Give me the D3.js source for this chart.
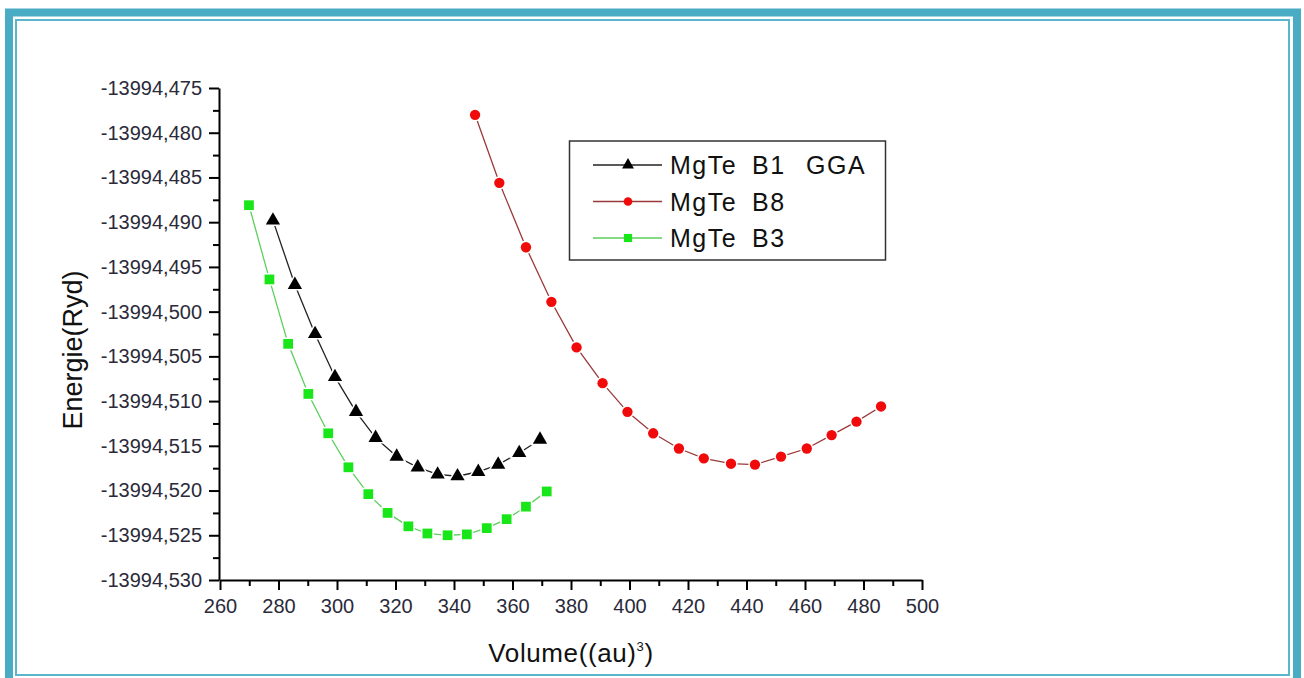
<!DOCTYPE html>
<html>
<head>
<meta charset="utf-8">
<script src="https://cdn.jsdelivr.net/npm/d3@7"></script>
<style>
body{margin:0;background:#fff;}
svg{display:block;font-family:"Liberation Sans",Arial,sans-serif;}
</style>
</head>
<body>
<svg id="chart" width="1304" height="678"></svg>
<script>
// values
const b1Volume = [278.1, 285.6, 292.5, 299.3, 306.5, 313.2, 320.4, 327.6, 334.4, 341.2, 348.3, 355.1, 362.3, 369.4];
const b1Energy = [-13994.4898, -13994.4970, -13994.5025, -13994.5073, -13994.5112, -13994.5141, -13994.5162,
                  -13994.5174, -13994.5182, -13994.5184, -13994.5179, -13994.5171, -13994.5158, -13994.5143];

const b8Volume = [347.2, 355.5, 364.6, 373.3, 381.9, 390.8, 399.3, 408.1, 416.9, 425.4, 434.7, 442.9, 451.8, 460.6, 469.1, 477.6, 486.0];
const b8Energy = [-13994.4780, -13994.4856, -13994.4928, -13994.4989, -13994.5040, -13994.5080, -13994.5112, -13994.5136,
                  -13994.5153, -13994.5164, -13994.5170, -13994.5171, -13994.5162, -13994.5153, -13994.5138, -13994.5123, -13994.5106];

const b3Volume = [269.9, 276.9, 283.3, 290.2, 297.0, 303.9, 310.7, 317.3, 324.4, 330.9, 337.8, 344.4, 351.2, 358.0, 364.6, 371.7];
const b3Energy = [-13994.4881, -13994.4964, -13994.5036, -13994.5092, -13994.5136, -13994.5174, -13994.5204, -13994.5225,
                  -13994.5240, -13994.5248, -13994.5250, -13994.5249, -13994.5242, -13994.5232, -13994.5218, -13994.5201];

const seriesNames = ["MgTe  B1  GGA", "MgTe  B8", "MgTe  B3"];

const xTicks = [260, 280, 300, 320, 340, 360, 380, 400, 420, 440, 460, 480, 500];
const yTicks = [-13994.475, -13994.480, -13994.485, -13994.490, -13994.495, -13994.500,
                -13994.505, -13994.510, -13994.515, -13994.520, -13994.525, -13994.530];

const svg = d3.select("#chart");

// frame
svg.append("rect").attr("x", 9).attr("y", 12.5).attr("width", 1288).attr("height", 670)
    .attr("fill", "none").attr("stroke", "#4aabc5").attr("stroke-width", 8);
svg.append("rect").attr("x", 16).attr("y", 20).attr("width", 1273).attr("height", 655)
    .attr("fill", "none").attr("stroke", "#5bb6cd").attr("stroke-width", 2);

const x = d3.scaleLinear().domain([260, 500]).range([220, 922]);
const y = d3.scaleLinear().domain([-13994.530, -13994.475]).range([580, 88]);

const fmt = d3.formatLocale({decimal: ",", thousands: "", grouping: [3], currency: ["", ""], minus: "-"}).format(".3f");

const mid = arr => arr.slice(1).map((v, i) => (v + arr[i]) / 2);

function styleAxis(g){
    g.selectAll("path,line").attr("stroke", "#000").attr("stroke-width", 2);
    g.selectAll("text").attr("fill", "#2a2a3a").style("font-size", "20px").style("font-family", "Liberation Sans, Arial, sans-serif");
}

// minor ticks
svg.append("g").attr("transform", "translate(0,580)")
    .call(d3.axisBottom(x).tickValues(mid(xTicks)).tickSize(6).tickFormat(""))
    .call(g => g.select(".domain").remove()).call(styleAxis);
svg.append("g").attr("transform", "translate(219,0)")
    .call(d3.axisLeft(y).tickValues(mid(yTicks)).tickSize(6).tickFormat(""))
    .call(g => g.select(".domain").remove()).call(styleAxis);

// major axes
svg.append("g").attr("transform", "translate(0,580)")
    .call(d3.axisBottom(x).tickValues(xTicks).tickSize(10).tickSizeOuter(0).tickPadding(9))
    .call(styleAxis);
svg.append("g").attr("transform", "translate(219,0)")
    .call(d3.axisLeft(y).tickValues(yTicks).tickFormat(fmt).tickSize(10).tickSizeOuter(0).tickPadding(7))
    .call(styleAxis);

// axis titles
svg.append("text").attr("transform", "translate(82,350) rotate(-90)")
    .attr("text-anchor", "middle").attr("fill", "#111").style("font-size", "27px")
    .text("Energie(Ryd)");
const xt = svg.append("text").attr("x", 571).attr("y", 662)
    .attr("text-anchor", "middle").attr("fill", "#111").style("font-size", "26px").style("letter-spacing", "0.6px");
xt.append("tspan").text("Volume((au)");
xt.append("tspan").attr("dy", -11).style("font-size", "13px").text("3");
xt.append("tspan").attr("dy", 11).text(")");

const series = [
    {name: seriesNames[0], vol: b1Volume, en: b1Energy, line: "#222", fill: "#000", symbol: d3.symbolTriangle, size: 88},
    {name: seriesNames[1], vol: b8Volume, en: b8Energy, line: "#9a3a3a", fill: "#f00a0a", symbol: d3.symbolCircle, size: 84},
    {name: seriesNames[2], vol: b3Volume, en: b3Energy, line: "#5ccf5c", fill: "#19e619", symbol: d3.symbolSquare, size: 95}
];

const line = d3.line().x(d => x(d[0])).y(d => y(d[1]));

series.forEach(s => {
    let pts = s.vol.map((v, i) => [v, s.en[i]]);
    let g = svg.append("g");
    g.append("path").attr("d", line(pts)).attr("fill", "none")
        .attr("stroke", s.line).attr("stroke-width", 1.3);
    g.selectAll("path.mk").data(pts).join("path").attr("class", "mk")
        .attr("transform", d => `translate(${x(d[0])},${y(d[1])})`)
        .attr("d", d3.symbol().type(s.symbol).size(s.size))
        .attr("fill", s.fill).attr("stroke", "#fff").attr("stroke-width", 3)
        .style("paint-order", "stroke");
});

// legend
const lg = svg.append("g");
lg.append("rect").attr("x", 569.5).attr("y", 141).attr("width", 316).attr("height", 119)
    .attr("fill", "#fff").attr("stroke", "#333").attr("stroke-width", 1.5);
const wordX = [670, 752, 806];
series.forEach((s, i) => {
    let ly = 165 + i * 36.5;
    lg.append("line").attr("x1", 593).attr("x2", 662).attr("y1", ly).attr("y2", ly)
        .attr("stroke", s.line).attr("stroke-width", 1.3);
    lg.append("path").attr("transform", `translate(628,${ly})`)
        .attr("d", d3.symbol().type(s.symbol).size(s.size * 0.7)).attr("fill", s.fill);
    let t = lg.append("text").attr("y", ly + 9).attr("fill", "#111")
        .style("font-size", "25px").style("letter-spacing", "1.5px");
    s.name.split(/\s+/).forEach((w, j) => t.append("tspan").attr("x", wordX[j]).text(w));
});
</script>
</body>
</html>
